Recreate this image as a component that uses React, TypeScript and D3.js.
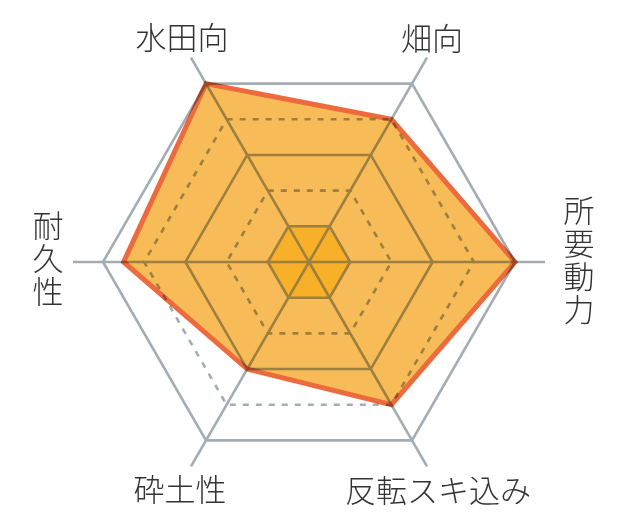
import React from "react";
import * as d3 from "d3";

const axes = ["水田向", "畑向", "所要動力", "反転スキ込み", "砕土性", "耐久性"];
const values = [5, 4, 5, 4, 3, 4.5];
const levels = [1, 2, 3, 4, 5];
const maxValue = 5;

const W = 640;
const H = 520;
const cx = 309;
const cy = 262;
const R = 206;
const spokeR = 236;

const r = d3.scaleLinear().domain([0, maxValue]).range([0, R]);
const angle = (i: number) => ((-120 + i * 60) * Math.PI) / 180;
const pt = (i: number, rad: number): [number, number] => [
  cx + rad * Math.cos(angle(i)),
  cy + rad * Math.sin(angle(i)),
];

const line = d3.line<[number, number]>().curve(d3.curveLinearClosed);

const hexPath = (rad: number) => line(axes.map((_, i) => pt(i, rad))) as string;

type Lab = { x: number; y: number; vertical?: boolean };
const labelPos: Lab[] = [
  { x: 182, y: 35 },
  { x: 432, y: 36 },
  { x: 579, y: 261, vertical: true },
  { x: 438, y: 488 },
  { x: 180, y: 487 },
  { x: 48, y: 259, vertical: true },
];

export default function App() {
  const dataPath = line(values.map((v, i) => pt(i, r(v)))) as string;
  const gridColor = "#a3adb3";
  const font = "'Noto Sans CJK JP', 'Noto Sans', sans-serif";
  return (
    <svg
      width={W}
      height={H}
      style={{ position: "absolute", left: 0, top: 0, background: "#fff" }}
    >
      <rect x={0} y={0} width={W} height={H} fill="#fff" />
      <path d={hexPath(r(1))} fill="#fff074" />
      {axes.map((_, i) => {
        const [x2, y2] = pt(i, spokeR);
        return (
          <line
            key={"s" + i}
            x1={cx}
            y1={cy}
            x2={x2}
            y2={y2}
            stroke={gridColor}
            strokeWidth={2.6}
          />
        );
      })}
      {levels.map((lv) => (
        <path
          key={"l" + lv}
          d={hexPath(r(lv))}
          fill="none"
          stroke={gridColor}
          strokeWidth={2.6}
          strokeDasharray={lv % 2 === 0 ? "6,7" : undefined}
        />
      ))}
      <path
        d={dataPath}
        fill="#f7bb58"
        stroke="#ec6a3c"
        strokeWidth={5}
        strokeLinejoin="miter"
        style={{ mixBlendMode: "multiply" }}
      />
      {axes.map((name, i) => {
        const p = labelPos[i];
        if (p.vertical) {
          return (
            <text
              key={"t" + i}
              x={p.x}
              y={p.y}
              fontFamily={font}
              fontWeight={300}
              fontSize={31}
              fill="#333"
              textAnchor="middle"
              style={{
                writingMode: "vertical-rl",
                textOrientation: "upright",
                letterSpacing: "2px",
              }}
            >
              {name}
            </text>
          );
        }
        return (
          <text
            key={"t" + i}
            x={p.x}
            y={p.y}
            fontFamily={font}
            fontWeight={300}
            fontSize={31}
            fill="#333"
            textAnchor="middle"
            dominantBaseline="central"
          >
            {name}
          </text>
        );
      })}
    </svg>
  );
}
